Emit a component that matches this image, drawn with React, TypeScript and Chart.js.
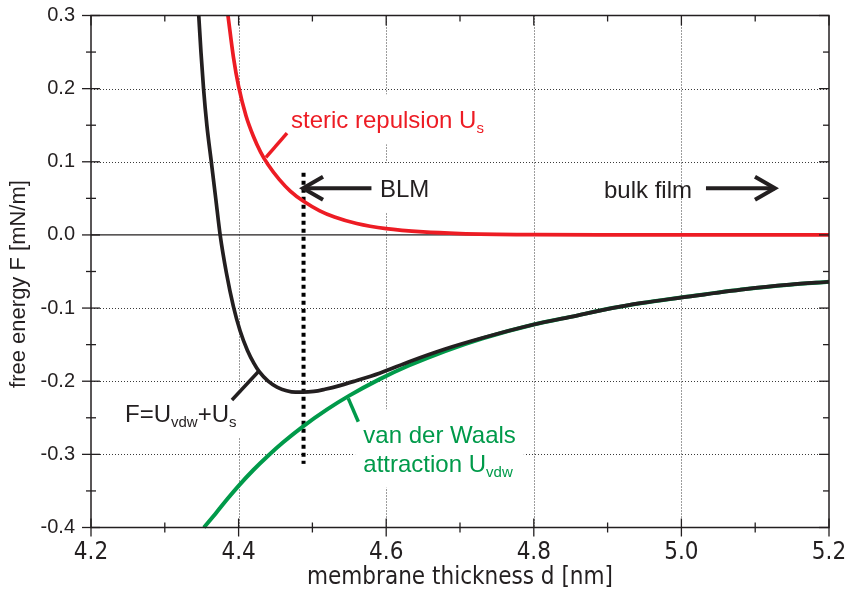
import React, { useEffect, useRef } from "react";
import { Chart, registerables } from "chart.js";
Chart.register(...registerables);

// ---- data ----
const stericD = [4.3856, 4.393, 4.4, 4.41, 4.42, 4.43, 4.44, 4.455, 4.47, 4.488, 4.51, 4.53, 4.56, 4.6, 4.65, 4.7, 4.8, 4.9, 5.2];
const stericF = [0.3, 0.243, 0.203, 0.163, 0.135, 0.113, 0.096, 0.076, 0.06, 0.046, 0.033, 0.0245, 0.0156, 0.0086, 0.0041, 0.0019, 0.0004, 0.0001, 0.0];

const totalD = [4.346, 4.349, 4.3525, 4.357, 4.363, 4.369, 4.375, 4.3835, 4.393, 4.402, 4.412, 4.421, 4.428, 4.44, 4.452, 4.465, 4.477, 4.487, 4.502, 4.517, 4.537, 4.557, 4.591, 4.632, 4.68, 4.73, 4.8, 4.85, 4.906, 4.947, 4.997, 5.087, 5.147, 5.2];
const totalF = [0.3, 0.25, 0.2, 0.15, 0.1, 0.05, 0.0, -0.052, -0.098, -0.131, -0.158, -0.176, -0.187, -0.2, -0.208, -0.213, -0.215, -0.215, -0.214, -0.211, -0.206, -0.2, -0.189, -0.173, -0.156, -0.141, -0.1225, -0.112, -0.1, -0.093, -0.086, -0.074, -0.068, -0.064];

const vdwD = [4.353, 4.37, 4.385, 4.4, 4.42, 4.44, 4.46, 4.487, 4.52, 4.55, 4.59, 4.63, 4.68, 4.73, 4.8, 4.85, 4.906, 4.947, 4.997, 5.087, 5.147, 5.2];
const vdwF = [-0.4, -0.3795, -0.3607, -0.343, -0.3214, -0.3019, -0.2839, -0.262, -0.2385, -0.2197, -0.1978, -0.1789, -0.1587, -0.1416, -0.1225, -0.112, -0.1, -0.093, -0.086, -0.074, -0.068, -0.064];

const blmD = 4.488;
const blmRange = [0.085, -0.313];

const xMajor = [4.2, 4.4, 4.6, 4.8, 5.0, 5.2];
const xMinor = [4.3, 4.5, 4.7, 4.9, 5.1];
const yMajor = [0.3, 0.2, 0.1, 0.0, -0.1, -0.2, -0.3, -0.4];
const yMinor = [0.25, 0.15, 0.05, -0.05, -0.15, -0.25, -0.35];
const xGrid = [4.4, 4.6, 4.8, 5.0];
const yGrid = [0.2, 0.1, -0.1, -0.2, -0.3];

const xTitle = "membrane thickness d [nm]";
const yTitle = "free energy F [mN/m]";

const RED = "#ed1c24";
const GREEN = "#009a4a";
const BLACK = "#231f20";

const SANS = "'Liberation Sans', Arial, Helvetica, sans-serif";
const NARROW = "'Liberation Sans Narrow', 'DejaVu Sans Condensed', 'Arial Narrow', sans-serif";
const MAIN = `24px ${SANS}`;
const SUB = `15px ${SANS}`;

type Part = { t: string; sub?: boolean };
type Label = { parts: Part[]; d: number; f: number; color: string; box: boolean };

const labels: Label[] = [
  { parts: [{ t: "steric repulsion U" }, { t: "s", sub: true }], d: 4.471, f: 0.1458, color: RED, box: true },
  { parts: [{ t: "BLM" }], d: 4.5916, f: 0.0518, color: BLACK, box: true },
  { parts: [{ t: "bulk film" }], d: 4.8951, f: 0.0509, color: BLACK, box: false },
  { parts: [{ t: "F=U" }, { t: "vdw", sub: true }, { t: "+U" }, { t: "s", sub: true }], d: 4.2461, f: -0.2554, color: BLACK, box: true },
  { parts: [{ t: "van der Waals" }], d: 4.569, f: -0.2849, color: GREEN, box: true },
  { parts: [{ t: "attraction U" }, { t: "vdw", sub: true }], d: 4.569, f: -0.3237, color: GREEN, box: true },
];

// pointer lines [d1, f1, d2, f2]
const pointers: { c: string; p: number[] }[] = [
  { c: RED, p: [4.4371, 0.106, 4.4656, 0.1393] },
  { c: BLACK, p: [4.391, -0.2256, 4.4276, -0.186] },
  { c: GREEN, p: [4.5486, -0.2234, 4.5622, -0.2554] },
];

// arrows
const arrows = [
  { tail: 4.58, tip: 4.4873, f: 0.0637, wing: 4.5144 },
  { tail: 5.0333, tip: 5.1268, f: 0.0637, wing: 5.0997 },
];

function richWidth(ctx: CanvasRenderingContext2D, parts: Part[]) {
  let w = 0;
  for (const p of parts) {
    ctx.font = p.sub ? SUB : MAIN;
    w += ctx.measureText(p.t).width;
  }
  return w;
}

function drawRich(ctx: CanvasRenderingContext2D, parts: Part[], x: number, y: number, color: string) {
  ctx.fillStyle = color;
  ctx.textAlign = "left";
  ctx.textBaseline = "alphabetic";
  let cx = x;
  for (const p of parts) {
    ctx.font = p.sub ? SUB : MAIN;
    ctx.fillText(p.t, cx, p.sub ? y + 5 : y);
    cx += ctx.measureText(p.t).width;
  }
}

function seg(ctx: CanvasRenderingContext2D, x1: number, y1: number, x2: number, y2: number) {
  ctx.beginPath();
  ctx.moveTo(x1, y1);
  ctx.lineTo(x2, y2);
  ctx.stroke();
}

const fmt = (v: any) => {
  const n = Number(v);
  return (Math.abs(n) < 1e-9 ? 0 : n).toFixed(1);
};

const decor = {
  id: "decor",
  beforeDatasetsDraw(chart: any) {
    const { ctx, chartArea: a, scales } = chart;
    const xs = scales.x, ys = scales.y;
    ctx.save();
    ctx.strokeStyle = "#3a3a3a";
    ctx.lineWidth = 1;
    ctx.setLineDash([1, 2]);
    for (const v of xGrid) {
      const px = Math.round(xs.getPixelForValue(v)) + 0.5;
      seg(ctx, px, a.top, px, a.bottom);
    }
    for (const v of yGrid) {
      const py = Math.round(ys.getPixelForValue(v)) + 0.5;
      seg(ctx, a.left, py, a.right, py);
    }
    ctx.setLineDash([]);
    ctx.strokeStyle = BLACK;
    ctx.lineWidth = 1.3;
    const y0 = ys.getPixelForValue(0);
    seg(ctx, a.left, y0, a.right, y0);
    ctx.fillStyle = "#ffffff";
    for (const l of labels) {
      if (!l.box) continue;
      const x = xs.getPixelForValue(l.d);
      const y = ys.getPixelForValue(l.f);
      const w = richWidth(ctx, l.parts);
      ctx.fillRect(x - 8, y - 34, w + 16, 50);
    }
    ctx.restore();
  },
  afterDatasetsDraw(chart: any) {
    const { ctx, scales } = chart;
    const xs = scales.x, ys = scales.y;
    ctx.save();
    for (const l of labels) {
      drawRich(ctx, l.parts, xs.getPixelForValue(l.d), ys.getPixelForValue(l.f), l.color);
    }
    ctx.lineWidth = 3.5;
    ctx.lineCap = "butt";
    for (const p of pointers) {
      ctx.strokeStyle = p.c;
      seg(ctx, xs.getPixelForValue(p.p[0]), ys.getPixelForValue(p.p[1]), xs.getPixelForValue(p.p[2]), ys.getPixelForValue(p.p[3]));
    }
    ctx.strokeStyle = BLACK;
    ctx.lineWidth = 4;
    ctx.lineJoin = "miter";
    for (const ar of arrows) {
      const y = ys.getPixelForValue(ar.f);
      const tx = xs.getPixelForValue(ar.tip);
      const wx = xs.getPixelForValue(ar.wing);
      seg(ctx, xs.getPixelForValue(ar.tail), y, tx, y);
      ctx.beginPath();
      ctx.moveTo(wx, y - 11.5);
      ctx.lineTo(tx, y);
      ctx.lineTo(wx, y + 11.5);
      ctx.stroke();
    }
    ctx.restore();
  },
  afterDraw(chart: any) {
    const { ctx, chartArea: a, scales } = chart;
    const xs = scales.x, ys = scales.y;
    ctx.save();
    ctx.strokeStyle = BLACK;
    ctx.lineWidth = 1.5;
    ctx.strokeRect(a.left, a.top, a.right - a.left, a.bottom - a.top);
    ctx.lineWidth = 1.3;
    for (const v of xMajor) {
      const px = xs.getPixelForValue(v);
      seg(ctx, px, a.bottom - 9, px, a.bottom + 9);
      seg(ctx, px, a.top, px, a.top + 10);
    }
    for (const v of xMinor) {
      const px = xs.getPixelForValue(v);
      seg(ctx, px, a.bottom - 5, px, a.bottom + 5);
      seg(ctx, px, a.top, px, a.top + 6);
    }
    for (const v of yMajor) {
      const py = ys.getPixelForValue(v);
      seg(ctx, a.left - 9, py, a.left + 9, py);
      seg(ctx, a.right - 10, py, a.right, py);
    }
    for (const v of yMinor) {
      const py = ys.getPixelForValue(v);
      seg(ctx, a.left - 5, py, a.left + 5, py);
      seg(ctx, a.right - 6, py, a.right, py);
    }
    ctx.fillStyle = BLACK;
    ctx.textAlign = "center";
    ctx.textBaseline = "middle";
    ctx.font = `24px ${NARROW}`;
    ctx.fillText(xTitle, (a.left + a.right) / 2, 578);
    ctx.translate(19, 284);
    ctx.rotate(-Math.PI / 2);
    ctx.font = `22px ${SANS}`;
    ctx.fillText(yTitle, 0, 0);
    ctx.restore();
  },
};

const noPad = (s: any) => {
  s.paddingLeft = 0;
  s.paddingRight = 0;
  s.paddingTop = 0;
  s.paddingBottom = 0;
};

export default function App() {
  const ref = useRef<HTMLCanvasElement>(null);
  useEffect(() => {
    if (!ref.current) return;
    const mk = (ds: number[], fs: number[]) => ds.map((d, i) => ({ x: d, y: fs[i] }));
    const chart = new Chart(ref.current, {
      type: "scatter",
      data: {
        datasets: [
          { label: "steric", data: mk(stericD, stericF), showLine: true, borderColor: RED, borderWidth: 3.7, pointRadius: 0, cubicInterpolationMode: "monotone" },
          { label: "total", data: mk(totalD, totalF), showLine: true, borderColor: BLACK, borderWidth: 3.7, pointRadius: 0, cubicInterpolationMode: "monotone" },
          { label: "vdw", data: mk(vdwD, vdwF), showLine: true, borderColor: GREEN, borderWidth: 4, pointRadius: 0, cubicInterpolationMode: "monotone" },
          { label: "BLM", data: [{ x: blmD, y: blmRange[0] }, { x: blmD, y: blmRange[1] }], showLine: true, borderColor: "#000", borderWidth: 4, borderDash: [4, 4], pointRadius: 0 },
        ],
      } as any,
      options: {
        animation: false,
        responsive: false,
        clip: false as any,
        layout: { padding: { left: 0, right: 17, top: 15.5, bottom: 0 } },
        plugins: { legend: { display: false }, tooltip: { enabled: false } },
        scales: {
          x: {
            type: "linear",
            min: 4.2,
            max: 5.2,
            grid: { display: false, drawTicks: false },
            border: { display: false },
            ticks: {
              stepSize: 0.2,
              padding: 11,
              color: BLACK,
              font: { family: NARROW, size: 24 },
              callback: fmt,
            },
            afterFit: (s: any) => { s.height = 68.5; noPad(s); },
          },
          y: {
            type: "linear",
            min: -0.4,
            max: 0.3,
            grid: { display: false, drawTicks: false },
            border: { display: false },
            ticks: {
              stepSize: 0.1,
              padding: 16,
              color: BLACK,
              font: { family: SANS, size: 20 },
              callback: fmt,
            },
            afterFit: (s: any) => { s.width = 91; noPad(s); },
          },
        },
      } as any,
      plugins: [decor],
    });
    return () => chart.destroy();
  }, []);
  return (
    <div style={{ position: "fixed", left: 0, top: 0, width: 846, height: 596, background: "#fff" }}>
      <canvas ref={ref} width={846} height={596} style={{ width: 846, height: 596, display: "block" }} />
    </div>
  );
}
